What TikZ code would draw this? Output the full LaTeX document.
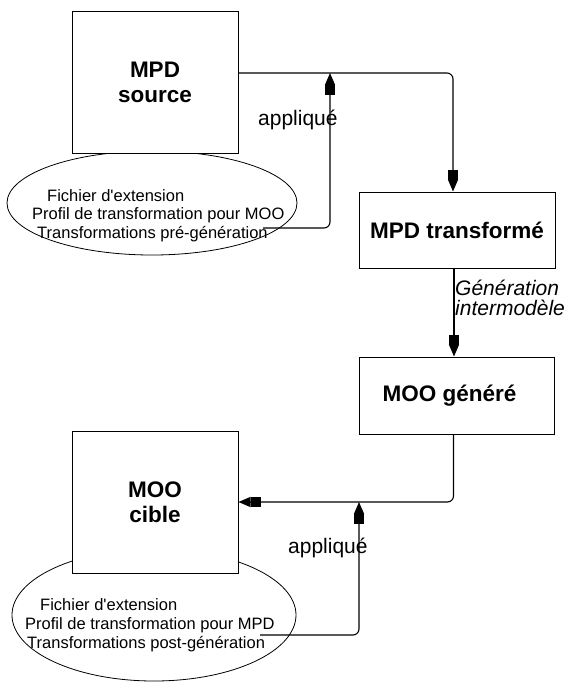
\documentclass[tikz,border=0pt]{standalone}
\usepackage{fontspec}
\setmainfont{Liberation Sans}
\usetikzlibrary{arrows.meta,shapes.geometric,calc}
\begin{document}
\begin{tikzpicture}[x=1pt,y=-1pt,
  box/.style={draw,fill=white,line width=1pt,inner sep=0pt,align=center,font=\fontsize{22.5}{25}\selectfont\bfseries},
  ell/.style={draw,ellipse,line width=0.8pt,inner sep=0pt},
  etext/.style={anchor=west,inner sep=0pt,font=\fontsize{16.5}{19}\selectfont},
  lbl/.style={anchor=west,inner sep=0pt,font=\fontsize{21}{20}\selectfont},
  conn/.style={line width=1.1pt,rounded corners=6pt},
  arr/.style={conn,-{Rectangle[length=10pt,width=10pt,sep=0pt]Triangle[length=12pt,width=10pt,sep=0pt]}}
]
\useasboundingbox (0,0) rectangle (570,683);
% ellipses
\node[ell,minimum width=290pt,minimum height=104pt] (e1) at (152,203) {};
\node[ell,minimum width=284pt,minimum height=132pt] (e2) at (154,615) {};
% boxes
\node[box,minimum width=166pt,minimum height=142pt] (src) at (155,82) {MPD\\source};
\node[box,minimum width=196pt,minimum height=76pt] (tr) at (457,230) {MPD transformé};
\node[box,minimum width=195pt,minimum height=77pt] (gen) at (456.5,395.5) {MOO généré\rule{14pt}{0pt}};
\node[box,minimum width=166pt,minimum height=142pt] (cible) at (155,502) {MOO\\cible};
% ellipse texts
\node[etext] (t1a) at (47,196) {Fichier d\textquotesingle extension};
\node[etext] (t1b) at (32,215) {Profil de transformation pour MOO};
\node[etext] (t1c) at (37,234) {Transformations pré-génération};
\node[etext] (t2a) at (40,605) {Fichier d\textquotesingle extension};
\node[etext] (t2b) at (25,625) {Profil de transformation pour MPD};
\node[etext] (t2c) at (27,644) {Transformations post-génération};
% connectors
\coordinate (j1) at (330,73);
\coordinate (s1) at (263,228);
\coordinate (j2) at (359,502);
\coordinate (s2) at (260,635);
\draw[arr] ([yshift=9pt]src.east) -| ([xshift=-4pt]tr.north);
\draw[arr] (s1) -| (j1);
\draw[arr] ([xshift=-3pt]tr.south) -- ([xshift=-3pt]tr.south |- gen.north);
\draw[arr] ([xshift=-3pt]gen.south) |- (cible.east);
\draw[arr] (s2) -| (j2);
% labels
\node[lbl] (ap1) at (258,120) {appliqué};
\node[lbl] (ap2) at (288,548) {appliqué};
\node[lbl,align=left,font=\fontsize{21}{20}\selectfont\itshape] (gi) at (455,298) {Génération\\intermodèle};
\end{tikzpicture}
\end{document}
